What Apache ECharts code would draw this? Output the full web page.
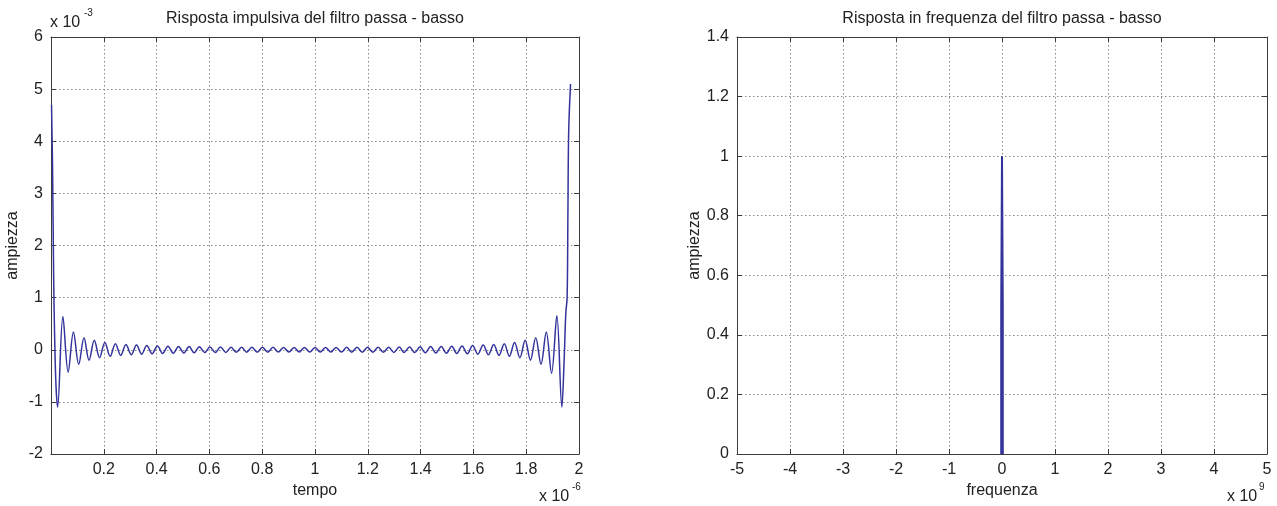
<!DOCTYPE html>
<html>
<head>
<meta charset="utf-8">
<script src="https://cdn.jsdelivr.net/npm/echarts@6/dist/echarts.min.js"></script>
<style>
  html, body { margin: 0; padding: 0; background: #fff; }
  #chart { width: 1277px; height: 506px; }
</style>
</head>
<body>
<div id="chart"></div>
<script>
// risposta impulsiva: tempo in unita di 1e-6 s, ampiezza in unita di 1e-3
var impT = [0.002, 0.006, 0.010, 0.014, 0.019,
  0.025, 0.045, 0.065, 0.085, 0.105, 0.125, 0.144, 0.164, 0.184, 0.204,
  0.224, 0.244, 0.264, 0.284, 0.304, 0.324, 0.343, 0.363, 0.383, 0.403,
  0.423, 0.443, 0.463, 0.483, 0.503, 0.523, 0.542, 0.562, 0.582, 0.602,
  0.622, 0.642, 0.662, 0.682, 0.702, 0.722, 0.741, 0.761, 0.781, 0.801,
  0.821, 0.841, 0.861, 0.881, 0.901, 0.921, 0.940, 0.960, 0.980, 1.000,
  1.020, 1.040, 1.060, 1.080, 1.100, 1.120, 1.139, 1.159, 1.179, 1.199,
  1.219, 1.239, 1.259, 1.279, 1.299, 1.319, 1.338, 1.358, 1.378, 1.398,
  1.418, 1.438, 1.458, 1.478, 1.498, 1.518, 1.537, 1.557, 1.577, 1.597,
  1.617, 1.637, 1.657, 1.677, 1.697, 1.717, 1.736, 1.756, 1.776, 1.796,
  1.816, 1.836, 1.856, 1.876, 1.896, 1.916, 1.935,
  1.943, 1.950, 1.955, 1.958, 1.961, 1.968];
var impA = [4.7, 3.45, 1.4, 0.2, -0.7,
  -1.10, 0.64, -0.43, 0.34, -0.28, 0.23, -0.20, 0.18, -0.155, 0.14,
  -0.127, 0.117, -0.108, 0.101, -0.095, 0.09, -0.085, 0.081, -0.077, 0.074,
  -0.071, 0.068, -0.066, 0.064, -0.062, 0.06, -0.058, 0.057, -0.055, 0.054,
  -0.053, 0.052, -0.051, 0.05, -0.049, 0.049, -0.048, 0.047, -0.047, 0.046,
  -0.046, 0.046, -0.045, 0.045, -0.045, 0.045, -0.045, 0.045, -0.045, 0.045,
  -0.045, 0.045, -0.045, 0.045, -0.045, 0.046, -0.046, 0.046, -0.047, 0.047,
  -0.048, 0.049, -0.049, 0.05, -0.051, 0.052, -0.053, 0.054, -0.055, 0.057,
  -0.058, 0.06, -0.062, 0.064, -0.066, 0.068, -0.071, 0.074, -0.077, 0.081,
  -0.085, 0.09, -0.095, 0.101, -0.108, 0.117, -0.127, 0.14, -0.155, 0.18,
  -0.20, 0.23, -0.28, 0.34, -0.45, 0.65, -1.10,
  -0.3, 0.7, 1.0, 2.6, 4.2, 5.1];

// risposta in frequenza: frequenza in unita di 1e9 Hz
var freqF = [-0.015, -0.015, 0, 0.015, 0.015];
var freqH = [0, 0.5, 1.0, 0.5, 0];

var timeTicks = { min: 0, max: 2, interval: 0.2 };
var ampTicks = { min: -2, max: 6, interval: 1 };
var freqTicks = { min: -5, max: 5, interval: 1 };
var magTicks = { min: 0, max: 1.4, interval: 0.2 };

var font = 'Liberation Sans';
var axisColor = '#3c3c3c';
var lineColor = '#33339c';

function zip(a, b) {
    var out = [];
    for (var i = 0; i < a.length; i++) out.push([a[i], b[i]]);
    return out;
}

// asse principale con etichette e griglia tratteggiata
function mainAxis(ticks, gridIndex, position, name, nameGap) {
    return {
        type: 'value', gridIndex: gridIndex, position: position,
        min: ticks.min, max: ticks.max, interval: ticks.interval,
        name: name, nameLocation: 'middle', nameGap: nameGap,
        nameTextStyle: { fontFamily: font, fontSize: 16, color: '#222' },
        axisLine: { show: true, onZero: false, lineStyle: { color: axisColor, width: 1 } },
        axisTick: { show: true, inside: true, length: 5, lineStyle: { color: axisColor } },
        axisLabel: { fontFamily: font, fontSize: 16, color: '#222', margin: 8,
            showMinLabel: position === 'left' || ticks.min !== 0 },
        splitLine: { show: true, lineStyle: { color: '#8c8c8c', width: 1, type: [1.5, 2.5] } }
    };
}
// asse opposto: solo linea e tacche (box stile matlab)
function boxAxis(ticks, gridIndex, position) {
    return {
        type: 'value', gridIndex: gridIndex, position: position,
        min: ticks.min, max: ticks.max, interval: ticks.interval,
        axisLine: { show: true, onZero: false, lineStyle: { color: axisColor, width: 1 } },
        axisTick: { show: true, inside: true, length: 5, lineStyle: { color: axisColor } },
        axisLabel: { show: false },
        splitLine: { show: false }
    };
}

var myChart = echarts.init(document.getElementById('chart'));

var option = {
    animation: false,
    backgroundColor: '#fff',
    title: [
        { text: 'Risposta impulsiva del filtro passa - basso', left: 315, top: 11, padding: 0,
          textAlign: 'center',
          textStyle: { fontFamily: font, fontSize: 16, fontWeight: 'normal', color: '#222' } },
        { text: 'Risposta in frequenza del filtro passa - basso', left: 1002, top: 11, padding: 0,
          textAlign: 'center',
          textStyle: { fontFamily: font, fontSize: 16, fontWeight: 'normal', color: '#222' } }
    ],
    grid: [
        { left: 51, top: 37, width: 528, height: 417 },
        { left: 737, top: 37, width: 530, height: 417 }
    ],
    xAxis: [
        mainAxis(timeTicks, 0, 'bottom', 'tempo', 27),
        boxAxis(timeTicks, 0, 'top'),
        mainAxis(freqTicks, 1, 'bottom', 'frequenza', 27),
        boxAxis(freqTicks, 1, 'top')
    ],
    yAxis: [
        mainAxis(ampTicks, 0, 'left', 'ampiezza', 30),
        boxAxis(ampTicks, 0, 'right'),
        mainAxis(magTicks, 1, 'left', 'ampiezza', 32),
        boxAxis(magTicks, 1, 'right')
    ],
    graphic: [
        { type: 'text', left: 50, top: 15, style: { text: 'x 10', font: '16px "Liberation Sans"', fill: '#222' } },
        { type: 'text', left: 84, top: 8, style: { text: '-3', font: '10px "Liberation Sans"', fill: '#222' } },
        { type: 'text', left: 539, top: 489, style: { text: 'x 10', font: '16px "Liberation Sans"', fill: '#222' } },
        { type: 'text', left: 572, top: 482, style: { text: '-6', font: '10px "Liberation Sans"', fill: '#222' } },
        { type: 'text', left: 1227, top: 489, style: { text: 'x 10', font: '16px "Liberation Sans"', fill: '#222' } },
        { type: 'text', left: 1259, top: 482, style: { text: '9', font: '10px "Liberation Sans"', fill: '#222' } }
    ],
    series: [
        {
            type: 'line', xAxisIndex: 0, yAxisIndex: 0,
            data: zip(impT, impA),
            showSymbol: false, smooth: 0.35,
            lineStyle: { color: lineColor, width: 1.5 }
        },
        {
            type: 'line', xAxisIndex: 2, yAxisIndex: 2,
            data: zip(freqF, freqH),
            showSymbol: false,
            lineStyle: { color: lineColor, width: 2 }
        }
    ]
};

myChart.setOption(option);
window.addEventListener('resize', function () {
    myChart.resize();
});
</script>
</body>
</html>
